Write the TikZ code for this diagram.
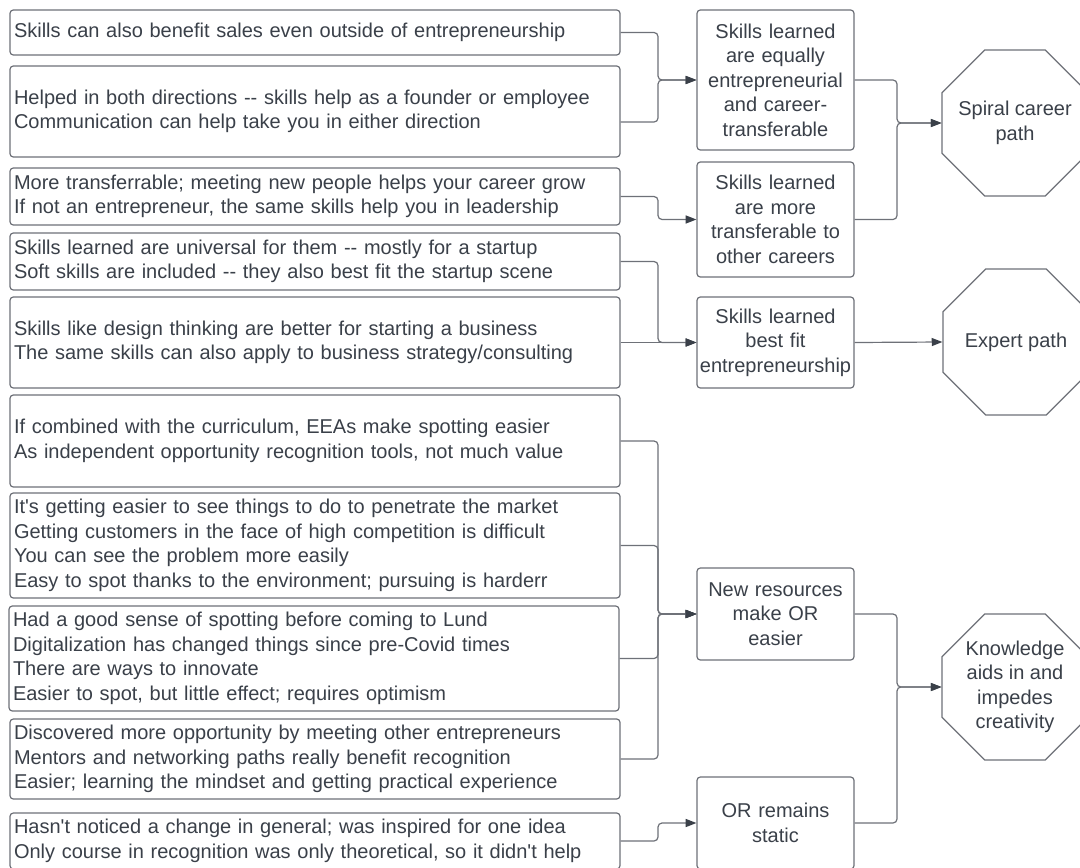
\documentclass[tikz,border=0pt]{standalone}
\usepackage{fontspec}
\setmainfont{Liberation Sans}[Ligatures=TeXOff]
\usetikzlibrary{shapes.geometric,arrows.meta,calc}
\definecolor{ink}{HTML}{3A4049}
\definecolor{edge}{HTML}{6E7178}
\tikzset{
  txt/.style={font=\fontsize{15}{18.4}\selectfont},
  note/.style={txt, draw=edge, line width=0.9pt, rounded corners=2.5pt, fill=white,
    text=ink, align=left, text width=451.5pt, inner sep=3pt,
    minimum width=457.5pt},
  theme/.style={txt, draw=edge, line width=0.9pt, rounded corners=2.5pt, fill=white,
    text=ink, align=center, text width=115.75pt, inner sep=1pt,
    minimum width=117.75pt},
  outcome/.style={draw=edge, line width=0.9pt, regular polygon, regular polygon sides=8,
    minimum size=118.5pt, inner sep=0pt},
  olabel/.style={txt, text=ink, align=center, inner sep=0pt},
  link/.style={draw=edge, line width=0.9pt, rounded corners=3pt,
    -{Triangle[length=8pt,width=6pt,fill=ink,color=ink]}},
}
\begin{document}
\begin{tikzpicture}[x=0.75pt,y=-0.75pt]
\useasboundingbox (0,0) rectangle (1080,867);
\clip (0,0) rectangle (1080,867);
\fill[white] (0,0) rectangle (1080,867);

% bus columns
\coordinate (busA) at (658,0);
\coordinate (busB) at (897,0);

% statement boxes
\node[note, minimum height=33.75pt] (b1) at (315,32.5)
  {Skills can also benefit sales even outside of entrepreneurship};
\node[note, minimum height=68.25pt] (b2) at (315,111.5)
  {Helped in both directions -- skills help as a founder or employee\\Communication can help take you in either direction};
\node[note, minimum height=42.75pt] (b3) at (315,196.5)
  {More transferrable; meeting new people helps your career grow\\If not an entrepreneur, the same skills help you in leadership};
\node[note, minimum height=42.75pt] (b4) at (315,261.5)
  {Skills learned are universal for them -- mostly for a startup\\Soft skills are included -- they also best fit the startup scene};
\node[note, minimum height=68.25pt] (b5) at (315,342.5)
  {Skills like design thinking are better for starting a business\\The same skills can also apply to business strategy/consulting};
\node[note, minimum height=69pt] (b6) at (315,441)
  {If combined with the curriculum, EEAs make spotting easier\\As independent opportunity recognition tools, not much value};
\node[note, minimum height=78.75pt] (b7) at (315,545.5)
  {It's getting easier to see things to do to penetrate the market\\Getting customers in the face of high competition is difficult\\You can see the problem more easily\\Easy to spot thanks to the environment; pursuing is harderr};
\node[note, minimum height=78.75pt] (b8) at (314,658.5)
  {Had a good sense of spotting before coming to Lund\\Digitalization has changed things since pre-Covid times\\There are ways to innovate\\Easier to spot, but little effect; requires optimism};
\node[note, minimum height=60pt] (b9) at (315,759)
  {Discovered more opportunity by meeting other entrepreneurs\\Mentors and networking paths really benefit recognition\\Easier; learning the mindset and getting practical experience};
\node[note, minimum height=42pt] (b10) at (315,841)
  {Hasn't noticed a change in general; was inspired for one idea\\Only course in recognition was only theoretical, so it didn't help};

% themes
\node[theme, minimum height=105pt] (m1) at (775.5,80)
  {Skills learned\\are equally\\entrepreneurial\\and career-\\transferable};
\node[theme, minimum height=86.25pt] (m2) at (775.5,219.5)
  {Skills learned\\are more\\transferable to\\other careers};
\node[theme, minimum height=68.25pt] (m3) at (775.5,342.5)
  {Skills learned\\best fit\\entrepreneurship};
\node[theme, minimum height=69pt] (m4) at (775.5,614)
  {New resources\\make OR\\easier};
\node[theme, minimum height=69pt] (m5) at (775.5,823)
  {OR remains\\static};

% outcomes: octagons of one fixed size, caption set in the middle
\node[outcome, label={[olabel]center:{Spiral career\\path}}] (o1) at (1015,123) {};
\node[outcome, label={[olabel]center:{Expert path}}] (o2) at (1016,342) {};
\node[outcome, label={[olabel]center:{Knowledge\\aids in and\\impedes\\creativity}}] (o3) at (1015,687) {};

% statements to themes
\draw[link] (b1.east) -- (b1.east -| busA) |- (m1.west);
\draw[link] ([yshift=-7.9pt]b2.east) -- ([yshift=-7.9pt]b2.east -| busA) |- (m1.west);
\draw[link] (b3.east) -- (b3.east -| busA) |- (m2.west);
\draw[link] (b4.east) -- (b4.east -| busA) |- (m3.west);
\draw[link] (b5.east) -- (m3.west);
\draw[link] (b6.east) -- (b6.east -| busA) |- (m4.west);
\draw[link] (b7.east) -- (b7.east -| busA) |- (m4.west);
\draw[link] (b8.east) -- (b8.east -| busA) |- (m4.west);
\draw[link] (b9.east) -- (b9.east -| busA) |- (m4.west);
\draw[link] (b10.east) -- (b10.east -| busA) |- (m5.west);

% themes to outcomes
\draw[link] (m1.east) -- (m1.east -| busB) |- (o1.west);
\draw[link] (m2.east) -- (m2.east -| busB) |- (o1.west);
\draw[link] (m3.east) -- (o2.west);
\draw[link] (m4.east) -- (m4.east -| busB) |- (o3.west);
\draw[link] (m5.east) -- (m5.east -| busB) |- (o3.west);
\end{tikzpicture}
\end{document}
